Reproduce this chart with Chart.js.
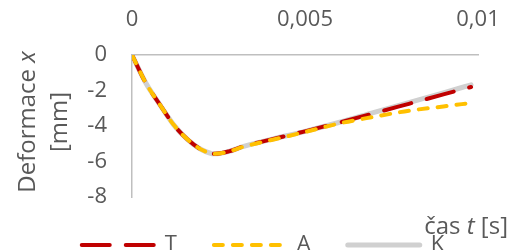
<!DOCTYPE html>
<html>
<head>
<meta charset="utf-8">
<script src="https://cdn.jsdelivr.net/npm/chart.js@4.4.0/dist/chart.umd.min.js"></script>
<style>
  html, body { margin: 0; padding: 0; background: #fff; overflow: hidden; }
  #wrap { position: relative; width: 526px; height: 266px; }
</style>
</head>
<body>
<div id="wrap"><canvas id="chart"></canvas></div>
<script>
// time t [s]
const times = [0, 0.0004, 0.0008, 0.0012, 0.0016, 0.002, 0.0024, 0.0028, 0.0032, 0.004, 0.005, 0.006, 0.007, 0.008, 0.009, 0.0098];
// deformation x [mm]
const seriesT = [0, -1.58, -2.78, -3.92, -4.75, -5.32, -5.57, -5.43, -5.16, -4.77, -4.3, -3.8, -3.28, -2.75, -2.22, -1.8];
const seriesA = [0, -1.58, -2.78, -3.92, -4.75, -5.32, -5.57, -5.44, -5.18, -4.8, -4.34, -3.85, -3.48, -3.14, -2.9, -2.7];
const seriesK = [0, -1.58, -2.78, -3.92, -4.75, -5.32, -5.57, -5.43, -5.16, -4.77, -4.3, -3.79, -3.23, -2.68, -2.13, -1.68];
const seriesNames = ['T', 'A', 'K'];

const xTicks = [0, 0.005, 0.01];
const xTickLabels = ['0', '0,005', '0,01'];
const yTicks = [0, -2, -4, -6, -8];
const yTickLabels = ['0', '-2', '-4', '-6', '-8'];

const FONT = '"Open Sans", sans-serif';
const TEXT_COLOR = '#595959';
const AXIS_COLOR = '#BFBFBF';

function points(values) {
  return times.map((t, i) => ({ x: t, y: values[i] }));
}

function drawParts(ctx, parts, x, y, angle, align, size) {
  ctx.save();
  ctx.translate(x, y);
  ctx.rotate(angle);
  let total = 0;
  parts.forEach(p => {
    ctx.font = (p[1] ? 'italic ' : '') + size + 'px ' + FONT;
    total += ctx.measureText(p[0]).width;
  });
  let cx = align === 'right' ? -total : -total / 2;
  ctx.textAlign = 'left';
  parts.forEach(p => {
    ctx.font = (p[1] ? 'italic ' : '') + size + 'px ' + FONT;
    ctx.fillText(p[0], cx, 0);
    cx += ctx.measureText(p[0]).width;
  });
  ctx.restore();
}

// axis titles with italic symbols
const axisTitles = {
  id: 'axisTitles',
  afterDraw(chart) {
    const { ctx, chartArea } = chart;
    ctx.save();
    ctx.fillStyle = TEXT_COLOR;
    ctx.textBaseline = 'middle';
    const midY = (chartArea.top + chartArea.bottom) / 2 - 4;
    drawParts(ctx, [['Deformace ', false], ['x', true]], 28, midY, -Math.PI / 2, 'center', 24);
    drawParts(ctx, [['[mm]', false]], 60, midY, -Math.PI / 2, 'center', 24);
    drawParts(ctx, [['čas ', false], ['t', true], [' [s]', false]], chartArea.right + 30, chartArea.bottom + 30, 0, 'right', 24);
    ctx.restore();
  }
};

const chart = new Chart(document.getElementById('chart'), {
  type: 'line',
  data: {
    datasets: [
      {
        label: seriesNames[0],
        data: points(seriesT),
        borderColor: '#C00000',
        borderWidth: 4,
        borderDash: [28, 16],
        borderCapStyle: 'round',
        order: 1,
      },
      {
        label: seriesNames[1],
        data: points(seriesA),
        borderColor: '#FFC000',
        borderWidth: 4,
        borderDash: [9, 10],
        borderCapStyle: 'round',
        order: 0,
      },
      {
        label: seriesNames[2],
        data: points(seriesK),
        borderColor: '#D0D0D0',
        borderWidth: 5,
        borderCapStyle: 'round',
        order: 2,
      },
    ],
  },
  options: {
    responsive: true,
    maintainAspectRatio: false,
    animation: false,
    layout: { padding: { left: 0, right: 0, top: 6, bottom: 0 } },
    elements: {
      point: { radius: 0 },
      line: { cubicInterpolationMode: 'monotone', fill: false },
    },
    plugins: {
      tooltip: { enabled: false },
      legend: {
        position: 'bottom',
        labels: {
          usePointStyle: true,
          pointStyle: 'line',
          pointStyleWidth: 72,
          padding: 37,
          color: TEXT_COLOR,
          font: { family: FONT, size: 22 },
          sort: (a, b) => a.datasetIndex - b.datasetIndex,
          generateLabels: c => Chart.defaults.plugins.legend.labels.generateLabels(c).map(item => {
            const ds = c.data.datasets[item.datasetIndex];
            item.lineDash = ds.borderDash || [];
            item.lineWidth = ds.borderWidth;
            item.lineCap = ds.borderCapStyle;
            item.strokeStyle = ds.borderColor;
            return item;
          }),
        },
      },
    },
    scales: {
      x: {
        type: 'linear',
        position: 'top',
        min: 0,
        max: 0.01,
        afterBuildTicks: s => { s.ticks = xTicks.map(v => ({ value: v })); },
        afterFit: s => { s.height = 49; },
        ticks: {
          padding: 22,
          color: TEXT_COLOR,
          font: { family: FONT, size: 22 },
          maxRotation: 0,
          autoSkip: false,
          callback: (v, i) => xTickLabels[i],
        },
        grid: { drawOnChartArea: false, drawTicks: false },
        border: { color: AXIS_COLOR, width: 1.5 },
      },
      y: {
        min: -8,
        max: 0,
        afterBuildTicks: s => { s.ticks = yTicks.map(v => ({ value: v })); },
        afterFit: s => { s.width = 132; },
        ticks: {
          padding: 25,
          autoSkip: false,
          color: TEXT_COLOR,
          font: { family: FONT, size: 22 },
          callback: (v, i) => yTickLabels[i],
        },
        grid: { drawOnChartArea: false, drawTicks: false },
        border: { color: AXIS_COLOR, width: 1.5 },
      },
      // empty right margin
      y2: {
        position: 'right',
        min: -8,
        max: 0,
        afterFit: s => { s.width = 48; },
        ticks: { display: false },
        grid: { display: false, drawTicks: false },
        border: { display: false },
      },
    },
  },
  plugins: [axisTitles],
});
</script>
</body>
</html>
